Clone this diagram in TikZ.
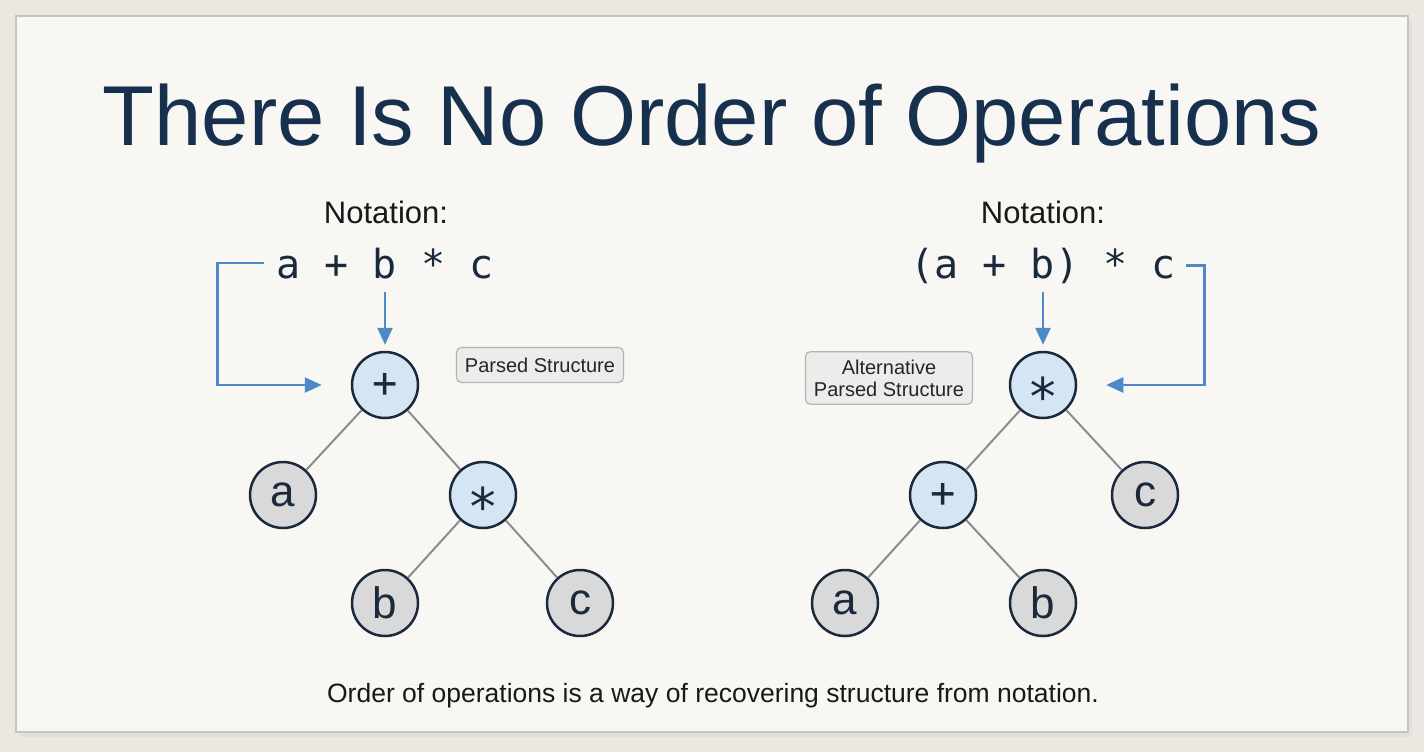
\documentclass[tikz,border=0pt]{standalone}
\usepackage{fontspec}
\setmainfont{Liberation Sans}
\setmonofont{DejaVu Sans Mono}
\usetikzlibrary{arrows.meta}

\definecolor{bgC}{HTML}{EBE8E2}
\definecolor{panelC}{HTML}{F8F7F3}
\definecolor{panelB}{HTML}{C6C4BF}
\definecolor{titleC}{HTML}{16304D}
\definecolor{inkC}{HTML}{1A2A3C}
\definecolor{opC}{HTML}{D4E5F4}
\definecolor{leafC}{HTML}{D9D9D9}
\definecolor{edgeC}{HTML}{8C8C8C}
\definecolor{arrC}{HTML}{4D88C9}
\definecolor{tagC}{HTML}{ECECEA}
\definecolor{tagB}{HTML}{B3B3B3}

\newcommand{\opstar}{\raisebox{-30pt}[0pt][0pt]{\fontsize{52}{52}\selectfont *}}

\begin{document}
\begin{tikzpicture}[x=1pt,y=-1pt,
    op/.style={circle,draw=inkC,line width=2.5pt,fill=opC,minimum size=66pt,
        inner sep=0pt,text=inkC,font=\fontsize{42}{42}\selectfont\ttfamily},
    leaf/.style={op,fill=leafC,font=\fontsize{44}{44}\selectfont},
    edge/.style={draw=edgeC,line width=2pt},
    arr/.style={draw=arrC,line width=2.5pt,-{Triangle[length=17pt,width=15pt]}},
    tag/.style={draw=tagB,fill=tagC,rounded corners=5pt,line width=1.2pt,minimum width=167pt,
        minimum height=35pt,align=center,text=black!85,inner ysep=8pt,font=\fontsize{20}{22}\selectfont},
    expr/.style={inner sep=0pt,anchor=base,text=inkC,font=\fontsize{40}{40}\selectfont\ttfamily},
    label/.style={inner sep=0pt,anchor=base,text=black!90,font=\fontsize{31}{31}\selectfont}]
    \useasboundingbox (0,0) rectangle (1424,752);
    % background and panel
    \fill [bgC] (0,0) rectangle (1424,752);
    \fill [black!12] (20,20) rectangle (1412,737);
    \draw [panelB,fill=panelC,line width=2pt] (16,16) rectangle (1408,732);
    \node [inner sep=0pt,anchor=base,text=titleC,font=\fontsize{85}{85}\selectfont] (title) at (712,145) {There Is No Order of Operations};

    % left: a + b * c
    \node [label] (notL) at (386,223) {Notation:};
    \node [expr] (exprL) at (385,278) {a + b * c};
    \node [op] (plusL) at (385,385) {+};
    \node [leaf] (aL) at (283,495) {a};
    \node [op] (timesL) at (483,495) {\opstar};
    \node [leaf] (bL) at (385,603) {b};
    \node [leaf] (cL) at (580,603) {c};
    \node [tag] (tagL) at (540,365) {Parsed Structure};

    % right: (a + b) * c
    \node [label] (notR) at (1043,223) {Notation:};
    \node [expr] (exprR) at (1043,278) {(a + b) * c};
    \node [op] (timesR) at (1043,385) {\opstar};
    \node [op] (plusR) at (943,495) {+};
    \node [leaf] (cR) at (1145,495) {c};
    \node [leaf] (aR) at (845,603) {a};
    \node [leaf] (bR) at (1043,603) {b};
    \node [tag] (tagR) at (889,378) {Alternative\\Parsed Structure};

    \foreach \p/\c in {plusL/aL,plusL/timesL,timesL/bL,timesL/cL,
                       timesR/plusR,timesR/cR,plusR/aR,plusR/bR} {
        \draw [edge] (\p) -- (\c);
    }

    \draw [arr] (exprL.base -| plusL) ++(0,14) -- ([yshift=6pt]plusL.north);
    \draw [arr] (exprR.base -| timesR) ++(0,14) -- ([yshift=6pt]timesR.north);
    \draw [arr] (exprL.west) ++(-12,0) -- ++(-47,0) |- ([xshift=-29pt]plusL.west);
    \draw [arr] (exprR.east) ++(10,0) -- ++(19,0) |- ([xshift=29pt]timesR.east);

    \node [inner sep=0pt,anchor=base,text=black!90,font=\fontsize{26.5}{26.5}\selectfont] (note) at (713,702) {Order of operations is a way of recovering structure from notation.};
\end{tikzpicture}
\end{document}
